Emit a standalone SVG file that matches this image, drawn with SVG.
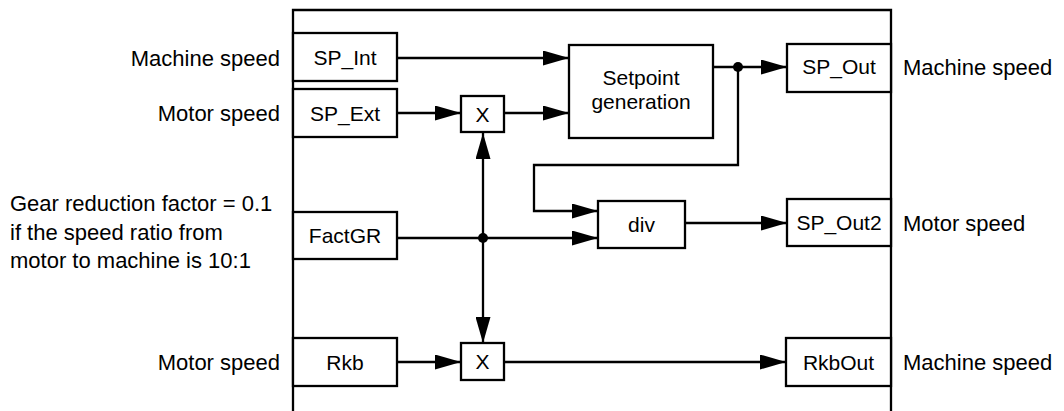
<svg xmlns="http://www.w3.org/2000/svg" width="1064" height="411" viewBox="0 0 1064 411">
<defs>
<style>
.box{fill:#fff;stroke:#000;stroke-width:2.3}
.ln{fill:none;stroke:#000;stroke-width:2.3}
.bt{font-family:"Liberation Sans",Arial,Helvetica,sans-serif;font-size:21px;fill:#000;text-anchor:middle}
.lbl{font-family:"Liberation Sans",Arial,Helvetica,sans-serif;font-size:22px;fill:#000}
.dot{fill:#000}
</style>
<marker id="ah" markerWidth="26" markerHeight="15" refX="26" refY="7.5" orient="auto" markerUnits="userSpaceOnUse">
<path d="M0,0 L26,7.5 L0,15 Z" fill="#000"/>
</marker>
</defs>
<rect width="1064" height="411" fill="#fff"/>
<path class="ln" d="M293,411 V10 H891 V411"/>
<g id="connectors">
<path class="ln" d="M397,58 H569" marker-end="url(#ah)"/>
<path class="ln" d="M397,113 H461" marker-end="url(#ah)"/>
<path class="ln" d="M504,113 H569" marker-end="url(#ah)"/>
<path class="ln" d="M713,67 H787" marker-end="url(#ah)"/>
<path class="ln" d="M738,67 V165 H534 V211 H598" marker-end="url(#ah)"/>
<path class="ln" d="M397,238 H598" marker-end="url(#ah)"/>
<path class="ln" d="M483,238 V133" marker-end="url(#ah)"/>
<path class="ln" d="M483,238 V343" marker-end="url(#ah)"/>
<path class="ln" d="M685,223 H787" marker-end="url(#ah)"/>
<path class="ln" d="M397,362 H461" marker-end="url(#ah)"/>
<path class="ln" d="M504,362 H786" marker-end="url(#ah)"/>
<circle class="dot" cx="738" cy="67" r="5"/>
<circle class="dot" cx="483" cy="238" r="5"/>
</g>
<g id="sp_int"><rect class="box" x="293" y="33" width="104" height="48"/><text class="bt" x="345" y="64.5">SP_Int</text></g>
<g id="sp_ext"><rect class="box" x="293" y="89" width="104" height="48"/><text class="bt" x="345" y="120.5">SP_Ext</text></g>
<g id="factgr"><rect class="box" x="293" y="212" width="104" height="47"/><text class="bt" x="345" y="243">FactGR</text></g>
<g id="rkb"><rect class="box" x="293" y="338" width="104" height="48"/><text class="bt" x="345" y="369.5">Rkb</text></g>
<g id="mul1"><rect class="box" x="461" y="96" width="43" height="36"/><text class="bt" x="482.5" y="121.5">X</text></g>
<g id="mul2"><rect class="box" x="461" y="343" width="43" height="37"/><text class="bt" x="482.5" y="369">X</text></g>
<g id="setpoint"><rect class="box" x="569" y="45" width="144" height="93"/><text class="bt" x="641" y="85">Setpoint</text><text class="bt" x="641" y="109">generation</text></g>
<g id="div"><rect class="box" x="598" y="201" width="87" height="47"/><text class="bt" x="641.5" y="232">div</text></g>
<g id="sp_out"><rect class="box" x="787" y="44" width="104" height="48"/><text class="bt" x="839" y="74">SP_Out</text></g>
<g id="sp_out2"><rect class="box" x="787" y="199" width="104" height="47"/><text class="bt" x="839" y="230">SP_Out2</text></g>
<g id="rkbout"><rect class="box" x="786" y="338" width="105" height="48"/><text class="bt" x="838.5" y="369.5">RkbOut</text></g>
<g id="labels">
<text class="lbl" x="280" y="65.5" text-anchor="end">Machine speed</text>
<text class="lbl" x="280" y="120.5" text-anchor="end">Motor speed</text>
<text class="lbl" x="10" y="211">Gear reduction factor = 0.1</text>
<text class="lbl" x="10" y="240">if the speed ratio from</text>
<text class="lbl" x="10" y="268">motor to machine is 10:1</text>
<text class="lbl" x="280" y="369.5" text-anchor="end">Motor speed</text>
<text class="lbl" x="903" y="74.5">Machine speed</text>
<text class="lbl" x="903" y="230.5">Motor speed</text>
<text class="lbl" x="903" y="369.5">Machine speed</text>
</g>
</svg>
